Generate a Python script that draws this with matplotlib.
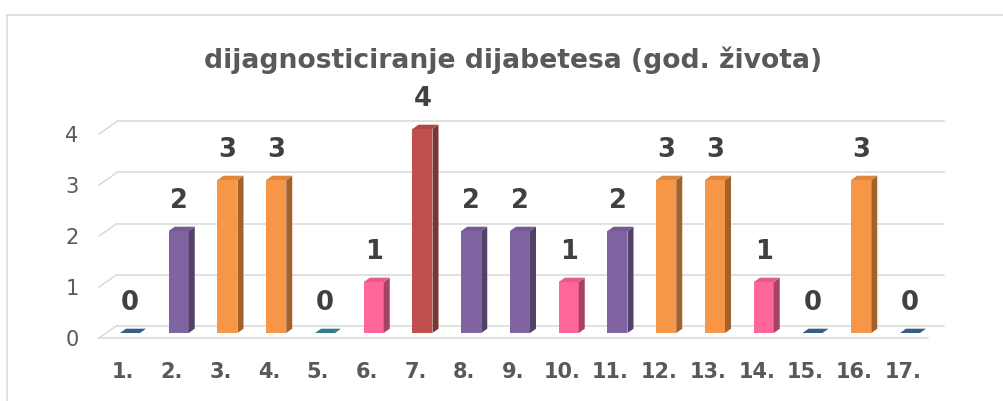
import matplotlib.pyplot as plt
from matplotlib.patches import Polygon
from matplotlib.lines import Line2D
from matplotlib.colors import to_rgb

# Podaci
kategorije = ['1.', '2.', '3.', '4.', '5.', '6.', '7.', '8.', '9.', '10.',
              '11.', '12.', '13.', '14.', '15.', '16.', '17.']
vrijednosti = [0, 2, 3, 3, 0, 1, 4, 2, 2, 1, 2, 3, 3, 1, 0, 3, 0]
y_oznake = ['0', '1', '2', '3', '4']
naslov = 'dijagnosticiranje dijabetesa (god. života)'

# Boje stupaca (Excel paleta)
boje = ['#4F81BD', '#8064A2', '#F79646', '#F79646', '#4BACC6', '#FF6699',
        '#C0504D', '#8064A2', '#8064A2', '#FF6699', '#8064A2', '#F79646',
        '#F79646', '#FF6699', '#4F81BD', '#F79646', '#4F81BD']

# Geometrija u pikselima (slika 1004x401)
W_PX, H_PX = 1004, 401
X0_PX, KORAK_PX = 130, 48.75
BAZA_PX, JED_PX = 333, 51

SIRINA = 20 / KORAK_PX
DUB_X = 6 / KORAK_PX
DUB_Y = 4.3 / JED_PX

# zidovi / pod
ZID_X = ((117 - X0_PX) / KORAK_PX, (944 - X0_PX) / KORAK_PX)
ZID_DY = 7.5 / JED_PX
POD_X = ((99 - X0_PX) / KORAK_PX, (928 - X0_PX) / KORAK_PX)
POD_DY = -5 / JED_PX

SIVA = '#D9D9D9'


def nijansa(boja, faktor):
    r, g, b = to_rgb(boja)
    return (r * faktor, g * faktor, b * faktor)


def nacrtaj_mrezu(ax):
    # linije mreže na stražnjem zidu + kose linije lijevo
    for i in range(len(y_oznake)):
        ax.add_line(Line2D([ZID_X[0], ZID_X[1]], [i + ZID_DY, i + ZID_DY],
                           color=SIVA, lw=1.1, zorder=1))
        ax.add_line(Line2D([POD_X[0], ZID_X[0]], [i + POD_DY, i + ZID_DY],
                           color=SIVA, lw=1.1, zorder=1))
        ax.text(-1.19, i - 7 / JED_PX, y_oznake[i], ha='center', va='center',
                fontsize=15, color='#595959')
    # prednji rub poda
    ax.add_line(Line2D([POD_X[0], POD_X[1]], [POD_DY, POD_DY],
                       color=SIVA, lw=1.1, zorder=1))


def nacrtaj_stupce(ax):
    x = list(range(len(vrijednosti)))
    ax.bar(x, vrijednosti, width=SIRINA, color=boje, zorder=3, linewidth=0)

    for i, v in enumerate(vrijednosti):
        lijevo = i - SIRINA / 2
        desno = i + SIRINA / 2
        # bočna strana
        if v > 0:
            bok = [(desno, 0), (desno + DUB_X, DUB_Y),
                   (desno + DUB_X, v + DUB_Y), (desno, v)]
            ax.add_patch(Polygon(bok, closed=True, color=nijansa(boje[i], 0.65),
                                 lw=0, zorder=3))
        # gornja strana
        faktor = 0.9 if v > 0 else 0.72
        vrh = [(lijevo, v), (desno, v), (desno + DUB_X, v + DUB_Y),
               (lijevo + DUB_X, v + DUB_Y)]
        ax.add_patch(Polygon(vrh, closed=True, color=nijansa(boje[i], faktor),
                             lw=0, zorder=3))
        # oznaka vrijednosti
        ax.text(i, v + 30 / JED_PX, str(v), ha='center', va='center',
                fontsize=18.5, fontweight='bold', color='#404040', zorder=4)
        # oznaka kategorije
        ax.text(i - 7 / KORAK_PX, (BAZA_PX - 372.5) / JED_PX, kategorije[i],
                ha='center', va='center', fontsize=15, fontweight='bold',
                color='#595959')


def main():
    plt.rcParams['font.family'] = ['DejaVu Sans']
    fig = plt.figure(figsize=(W_PX / 100, H_PX / 100), dpi=100)
    ax = fig.add_axes([0, 0, 1, 1])
    ax.set_xlim(-X0_PX / KORAK_PX, (W_PX - X0_PX) / KORAK_PX)
    ax.set_ylim((BAZA_PX - H_PX) / JED_PX, BAZA_PX / JED_PX)
    ax.axis('off')

    # okvir grafikona
    lx = 7.5 / W_PX
    ty = 1 - 14.5 / H_PX
    fig.add_artist(Line2D([lx, lx], [0, ty], color=SIVA, lw=1.1))
    fig.add_artist(Line2D([lx, 1], [ty, ty], color=SIVA, lw=1.1))

    nacrtaj_mrezu(ax)
    nacrtaj_stupce(ax)

    fig.text(513.5 / W_PX, 1 - 68 / H_PX, naslov, ha='center', va='baseline',
             fontsize=19.2, fontweight='bold', color='#595959')

    fig.savefig('out.png', dpi=100)


if __name__ == '__main__':
    main()
